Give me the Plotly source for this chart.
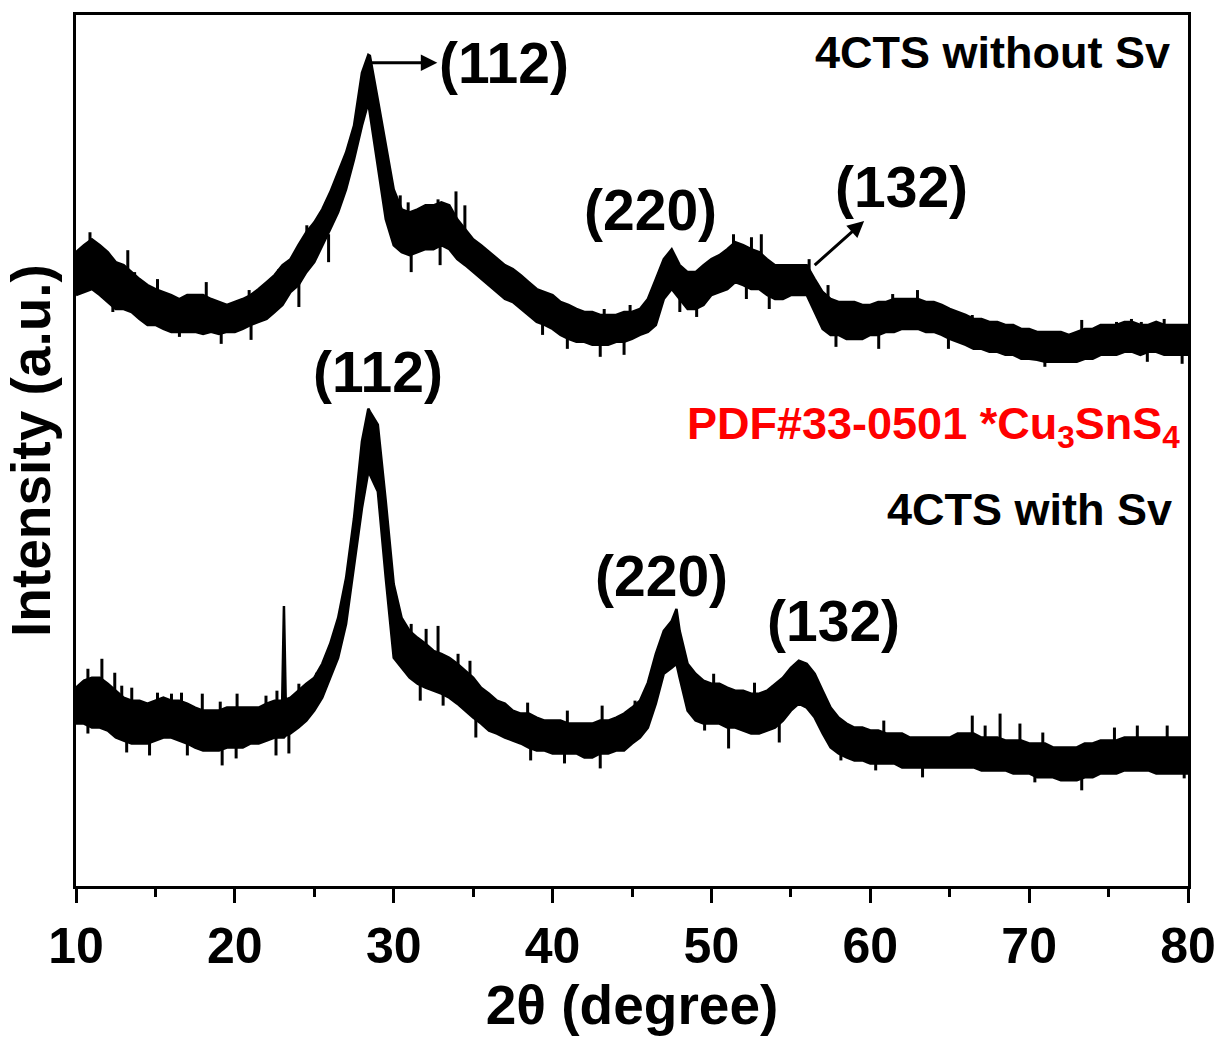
import plotly.graph_objects as go

# ---------------- data (intensity, arbitrary units) ----------------
# upper curve: 4CTS without Sv  (upper / lower edge of the noisy trace)
top_x = [10, 10.5, 11, 11.5, 12, 12.5, 13, 13.5, 14, 14.5,
         15, 15.5, 16, 16.5, 17, 17.5, 18, 18.5, 19, 19.5,
         20, 20.5, 21, 21.5, 22, 22.5, 23, 23.5, 24, 24.5,
         25, 25.5, 26, 26.5, 27, 27.5, 28, 28.4, 28.5, 29,
         29.5, 30, 30.5, 31, 31.5, 32, 32.5, 33, 33.5, 34,
         34.5, 35, 35.5, 36, 36.5, 37, 37.5, 38, 38.5, 39,
         39.5, 40, 40.5, 41, 41.5, 42, 42.5, 43, 43.5, 44,
         44.5, 45, 45.5, 46, 46.5, 47, 47.5, 48, 48.5, 49,
         49.5, 50, 50.5, 51, 51.5, 52, 52.5, 53, 53.5, 54,
         54.5, 55, 55.5, 56, 56.5, 57, 57.5, 58, 58.5, 59,
         59.5, 60, 60.5, 61, 61.5, 62, 62.5, 63, 63.5, 64,
         64.5, 65, 65.5, 66, 66.5, 67, 67.5, 68, 68.5, 69,
         69.5, 70, 70.5, 71, 71.5, 72, 72.5, 73, 73.5, 74,
         74.5, 75, 75.5, 76, 76.5, 77, 77.5, 78, 78.5, 79,
         79.5, 80]
top_hi = [636, 643, 649, 643, 636, 626, 623, 616, 609, 603,
          599, 596, 593, 589, 593, 593, 593, 589, 586, 583,
          586, 589, 593, 599, 606, 613, 623, 629, 643, 656,
          666, 679, 696, 716, 736, 763, 816, 834, 833, 789,
          746, 699, 679, 676, 679, 683, 683, 686, 683, 669,
          659, 649, 643, 636, 629, 623, 619, 613, 606, 599,
          596, 593, 586, 583, 579, 576, 576, 573, 573, 573,
          576, 576, 579, 589, 609, 629, 639, 623, 616, 616,
          623, 629, 633, 639, 646, 643, 639, 636, 629, 623,
          623, 623, 623, 623, 609, 596, 589, 586, 586, 586,
          583, 583, 586, 586, 589, 589, 589, 589, 586, 586,
          583, 579, 576, 573, 569, 569, 566, 566, 563, 563,
          559, 559, 556, 556, 556, 556, 553, 556, 559, 559,
          563, 563, 563, 566, 566, 563, 563, 566, 563, 563,
          563, 563]
top_lo = [593, 596, 599, 593, 586, 579, 579, 576, 569, 563,
          563, 559, 556, 556, 556, 556, 554, 556, 554, 556,
          556, 559, 563, 566, 569, 576, 583, 596, 603, 616,
          626, 643, 659, 676, 699, 729, 763, 786, 779, 723,
          669, 643, 636, 633, 636, 639, 639, 643, 639, 629,
          623, 616, 609, 603, 596, 589, 586, 579, 573, 566,
          563, 559, 553, 549, 546, 546, 543, 543, 543, 546,
          546, 549, 553, 556, 563, 589, 599, 589, 579, 579,
          583, 593, 596, 599, 606, 603, 599, 599, 593, 589,
          589, 593, 593, 593, 576, 559, 553, 553, 549, 549,
          549, 553, 553, 556, 556, 559, 559, 559, 556, 556,
          553, 549, 546, 543, 539, 539, 536, 536, 533, 533,
          529, 529, 528, 526, 526, 526, 526, 526, 529, 529,
          533, 533, 533, 536, 536, 533, 536, 536, 533, 533,
          533, 533]
# single noise spikes sticking out of the upper trace
top_up_x = [10.88, 13.26, 13.69, 15.13, 18.20, 20.90, 22.77, 24.53, 25.72, 30.41,
            30.91, 32.79, 33.92, 34.48, 38.93, 43.25, 44.88, 51.39, 52.52, 53.14,
            56.15, 57.34, 61.41, 62.97, 66.42, 73.31, 75.50, 76.44, 77.06, 78.50]
top_up_y = [656, 638, 616, 609, 606, 598, 619, 663, 686, 693,
            686, 689, 697, 683, 599, 579, 583, 654, 651, 654,
            629, 603, 594, 598, 573, 568, 566, 569, 566, 569]
top_dn_x = [12.32, 16.51, 19.14, 21.02, 24.03, 25.90, 31.10, 32.92, 39.37, 40.93,
            43.00, 44.50, 48.01, 49.07, 52.20, 53.64, 57.84, 60.53, 64.92, 70.99,
            77.44, 79.63]
top_dn_y = [576, 551, 544, 548, 581, 626, 616, 623, 553, 539,
            531, 533, 576, 571, 589, 579, 541, 539, 539, 521,
            526, 524]

# lower curve: 4CTS with Sv
bot_x = [10, 10.5, 11, 11.5, 12, 12.5, 13, 13.5, 14, 14.5,
         15, 15.5, 16, 16.5, 17, 17.5, 18, 18.5, 19, 19.5,
         20, 20.5, 21, 21.5, 22, 22.5, 22.98, 23.09, 23.2, 23.5,
         24, 24.5, 25, 25.5, 26, 26.5, 27, 27.5, 28, 28.4,
         28.5, 29, 29.5, 30, 30.5, 31, 31.5, 32, 32.5, 33,
         33.5, 34, 34.5, 35, 35.5, 36, 36.5, 37, 37.5, 38,
         38.5, 39, 39.5, 40, 40.5, 41, 41.5, 42, 42.5, 43,
         43.5, 44, 44.5, 45, 45.5, 46, 46.5, 47, 47.5, 47.8,
         48, 48.5, 49, 49.5, 50, 50.5, 51, 51.5, 52, 52.5,
         53, 53.5, 54, 54.5, 55, 55.5, 56, 56.5, 57, 57.5,
         58, 58.5, 59, 59.5, 60, 60.5, 61, 61.5, 62, 62.5,
         63, 63.5, 64, 64.5, 65, 65.5, 66, 66.5, 67, 67.5,
         68, 68.5, 69, 69.5, 70, 70.5, 71, 71.5, 72, 72.5,
         73, 73.5, 74, 74.5, 75, 75.5, 76, 76.5, 77, 77.5,
         78, 78.5, 79, 79.5, 80]
bot_hi = [199, 206, 209, 209, 203, 196, 189, 186, 186, 183,
          186, 189, 186, 186, 183, 179, 176, 176, 176, 179,
          179, 179, 179, 179, 183, 186, 186, 281, 187, 189,
          196, 203, 209, 223, 243, 269, 309, 369, 446, 479,
          476, 463, 386, 303, 269, 256, 249, 243, 236, 233,
          229, 223, 216, 209, 199, 193, 186, 183, 176, 173,
          173, 169, 166, 166, 166, 163, 163, 163, 163, 166,
          166, 169, 173, 179, 186, 204, 233, 256, 266, 278,
          256, 223, 213, 206, 203, 203, 199, 196, 196, 193,
          193, 196, 203, 209, 219, 226, 223, 213, 196, 179,
          169, 163, 159, 159, 156, 156, 153, 153, 153, 149,
          149, 149, 149, 149, 149, 153, 153, 153, 149, 149,
          149, 146, 146, 146, 143, 143, 143, 139, 139, 139,
          139, 143, 143, 146, 146, 146, 149, 149, 149, 149,
          149, 149, 149, 149, 149]
bot_lo = [163, 163, 159, 159, 156, 149, 146, 143, 143, 143,
          146, 149, 149, 146, 143, 139, 136, 136, 136, 139,
          139, 139, 143, 143, 146, 149, 149, 149, 151, 153,
          159, 166, 176, 189, 209, 229, 263, 323, 379, 416,
          413, 396, 309, 229, 219, 209, 203, 199, 196, 193,
          189, 183, 176, 169, 163, 156, 153, 149, 146, 143,
          139, 136, 136, 133, 133, 133, 133, 129, 129, 133,
          133, 136, 136, 143, 149, 159, 183, 213, 219, 223,
          209, 176, 166, 163, 163, 163, 159, 159, 156, 153,
          153, 156, 159, 166, 176, 183, 179, 169, 153, 139,
          133, 129, 126, 126, 123, 123, 123, 123, 119, 119,
          119, 119, 119, 119, 119, 119, 119, 119, 116, 116,
          116, 116, 113, 113, 113, 109, 109, 109, 106, 106,
          106, 109, 109, 113, 113, 113, 116, 116, 116, 116,
          113, 113, 113, 113, 113]
bot_up_x = [10.75, 11.63, 12.44, 12.88, 13.51, 15.13, 16.01, 16.64, 17.95, 19.08,
            20.14, 21.96, 22.65, 24.03, 25.15, 31.10, 32.04, 32.79, 34.05, 34.80,
            38.43, 40.93, 43.12, 45.19, 50.14, 52.71, 53.89, 60.85, 66.42, 67.23,
            68.17, 69.42, 70.86, 75.37, 76.81, 78.69]
bot_up_y = [218, 228, 214, 201, 199, 194, 193, 194, 193, 185,
            193, 191, 196, 203, 214, 263, 258, 261, 233, 226,
            184, 176, 181, 186, 213, 204, 201, 166, 171, 161,
            173, 163, 154, 159, 161, 161]
bot_dn_x = [10.75, 13.19, 14.63, 17.01, 19.20, 20.08, 22.59, 23.40, 31.67, 33.11,
            35.17, 38.62, 40.75, 43.00, 49.57, 51.08, 54.27, 58.15, 60.34, 63.29,
            70.36, 73.31, 79.76]
bot_dn_y = [153, 134, 131, 131, 121, 128, 131, 133, 186, 181,
            149, 126, 123, 118, 156, 138, 144, 126, 116, 109,
            104, 96, 108]

for a, b in [(top_x, top_hi), (top_x, top_lo), (bot_x, bot_hi), (bot_x, bot_lo),
             (top_up_x, top_up_y), (top_dn_x, top_dn_y), (bot_up_x, bot_up_y), (bot_dn_x, bot_dn_y)]:
    assert len(a) == len(b), (len(a), len(b))

peak_labels = ["(112)", "(220)", "(132)"]
sample_names = ["4CTS without Sv", "4CTS with Sv"]
phase_label = "PDF#33-0501 *Cu<sub>3</sub>SnS<sub>4</sub>"
x_ticks = [10, 20, 30, 40, 50, 60, 70, 80]

FONT = "Arial, 'Liberation Sans', sans-serif"
SPIKE_LEN = 28  # how far a spike stroke reaches back into the trace

fig = go.Figure()


def band(x, hi, lo):
    xs = list(x) + list(x)[::-1]
    ys = list(hi) + list(lo)[::-1]
    return go.Scatter(x=xs, y=ys, mode="lines", fill="toself", fillcolor="black",
                      line=dict(color="black", width=2.5), hoverinfo="skip", showlegend=False)


def spikes(ux, uy, dx, dy):
    xs, ys = [], []
    for x, y in zip(ux, uy):
        xs += [x, x, None]
        ys += [y, y - SPIKE_LEN, None]
    for x, y in zip(dx, dy):
        xs += [x, x, None]
        ys += [y, y + SPIKE_LEN, None]
    return go.Scatter(x=xs, y=ys, mode="lines", line=dict(color="black", width=3),
                      hoverinfo="skip", showlegend=False)


fig.add_trace(band(top_x, top_hi, top_lo))
fig.add_trace(spikes(top_up_x, top_up_y, top_dn_x, top_dn_y))
fig.add_trace(band(bot_x, bot_hi, bot_lo))
fig.add_trace(spikes(bot_up_x, bot_up_y, bot_dn_x, bot_dn_y))

ann_font = dict(family=FONT, size=57, color="black", weight="bold")

# labels with arrows (arrow head drawn at the label side)
fig.add_annotation(x=28.6, y=826, ax=36.93, ay=826, xref="x", yref="y", axref="x", ayref="y",
                   text=peak_labels[0], font=ann_font, showarrow=True, arrowside="start",
                   startarrowhead=2, startarrowsize=1.1, arrowwidth=3, arrowcolor="black",
                   startstandoff=0, standoff=0)
fig.add_annotation(x=56.5, y=623, ax=61.97, ay=701, xref="x", yref="y", axref="x", ayref="y",
                   text=peak_labels[2], font=ann_font, showarrow=True, arrowside="start",
                   startarrowhead=2, startarrowsize=1.1, arrowwidth=3, arrowcolor="black",
                   startstandoff=0, standoff=0)

plain_labels = [
    dict(x=46.19, y=678, text=peak_labels[1]),
    dict(x=29.04, y=516, text=peak_labels[0]),
    dict(x=46.88, y=311, text=peak_labels[1]),
    dict(x=57.71, y=266, text=peak_labels[2]),
]
for a in plain_labels:
    fig.add_annotation(x=a["x"], y=a["y"], text=a["text"], showarrow=False,
                       font=ann_font, xanchor="center", yanchor="middle")

side_font = dict(family=FONT, size=45, color="black", weight="bold")
fig.add_annotation(x=79.0, y=836, text=sample_names[0], showarrow=False, font=side_font,
                   xanchor="right", yanchor="middle")
fig.add_annotation(x=79.13, y=378, text=sample_names[1], showarrow=False, font=side_font,
                   xanchor="right", yanchor="middle")
fig.add_annotation(x=79.6, y=461, text=phase_label, showarrow=False,
                   font=dict(family=FONT, size=45, color="red", weight="bold"),
                   xanchor="right", yanchor="middle")

fig.update_layout(
    width=1228, height=1041,
    margin=dict(l=76, r=34, t=12, b=155),
    paper_bgcolor="white", plot_bgcolor="white",
    showlegend=False,
)
fig.update_xaxes(
    range=[10, 80], tickvals=x_ticks, ticktext=[str(v) for v in x_ticks],
    ticks="outside", ticklen=14, tickwidth=3, tickcolor="black",
    minor=dict(ticks="outside", ticklen=8, tickwidth=3, tickcolor="black", dtick=5, tick0=5),
    showline=True, linewidth=3, linecolor="black", mirror=True,
    showgrid=False, zeroline=False,
    tickfont=dict(family=FONT, size=50, color="black", weight="bold"),
    title=dict(text="2θ (degree)", font=dict(family=FONT, size=55, color="black", weight="bold"), standoff=8),
)
fig.update_yaxes(
    range=[0, 874], showticklabels=False, ticks="",
    showline=True, linewidth=3, linecolor="black", mirror=True,
    showgrid=False, zeroline=False,
    title=dict(text="Intensity (a.u.)", font=dict(family=FONT, size=55, color="black", weight="bold"), standoff=8),
)

fig.write_html("out.html")
